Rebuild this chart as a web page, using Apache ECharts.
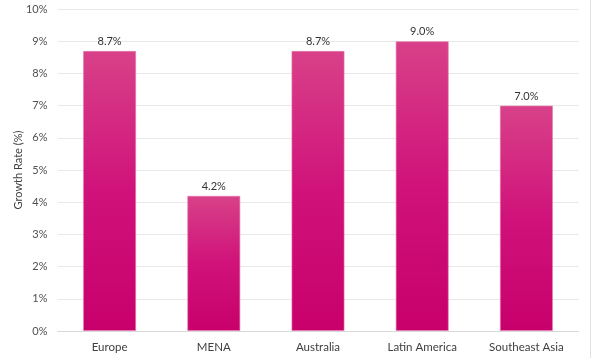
<!DOCTYPE html>
<html>
<head>
<meta charset="utf-8">
<script src="https://cdn.jsdelivr.net/npm/echarts@6/dist/echarts.min.js"></script>
<style>
html,body{margin:0;padding:0;background:#fff;}
#c{width:616px;height:358px;}
</style>
</head>
<body>
<div id="c"></div>
<script>
const categories = ["Europe", "MENA", "Australia", "Latin America", "Southeast Asia"];
const growthRates = [8.7, 4.2, 8.7, 9.0, 7.0];
const yAxisTitle = "Growth Rate (%)";

const chart = echarts.init(document.getElementById('c'), null, {renderer: 'canvas'});
const font = 'Lato, "Noto Sans", sans-serif';
chart.setOption({
  animation: false,
  grid: {left: 57.5, right: 37.5, top: 9, bottom: 27},
  xAxis: {
    type: 'category',
    data: categories,
    axisLine: {show: true, lineStyle: {color: '#d9d9d9'}},
    axisTick: {show: false},
    axisLabel: {color: '#404040', fontSize: 11.5, fontFamily: font, margin: 10}
  },
  yAxis: {
    type: 'value',
    min: 0, max: 10, interval: 1,
    axisLine: {show: false},
    axisTick: {show: false},
    axisLabel: {color: '#505050', fontSize: 11, fontFamily: font, margin: 10, formatter: v => v + '%'},
    splitLine: {lineStyle: {color: '#e8e8e8'}}
  },
  series: [{
    type: 'bar',
    data: growthRates,
    barWidth: '51%',
    itemStyle: {
      color: new echarts.graphic.LinearGradient(0, 0, 0, 1, [
        {offset: 0, color: '#d84189'},
        {offset: 0.5, color: '#d0127a'},
        {offset: 1, color: '#c8006c'}
      ]),
      borderColor: 'rgba(230,120,170,0.6)',
      borderWidth: 1
    },
    label: {
      show: true, position: 'top', distance: 4,
      color: '#333', fontSize: 11, fontFamily: font,
      formatter: p => p.value.toFixed(1) + '%'
    }
  }],
  graphic: [{
    type: 'line',
    shape: {x1: 590.5, y1: 0, x2: 590.5, y2: 358},
    style: {stroke: '#e0e0e0', lineWidth: 1}
  }, {
    type: 'text',
    x: 18, y: 170,
    rotation: Math.PI / 2,
    style: {text: yAxisTitle, fill: '#404040', font: '11px ' + font, align: 'center', verticalAlign: 'middle'}
  }]
});
</script>
</body>
</html>
